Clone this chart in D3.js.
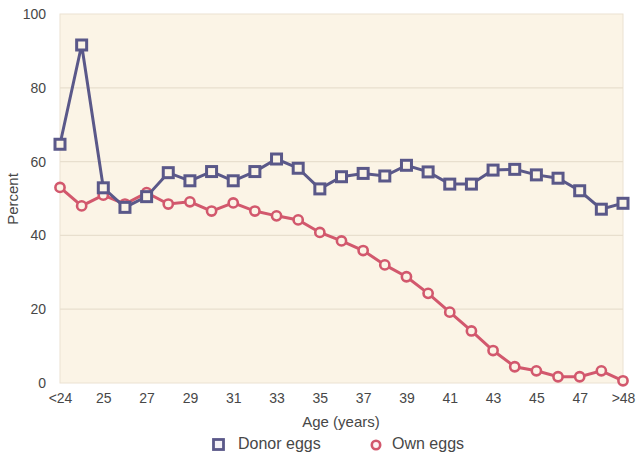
<!DOCTYPE html>
<html><head><meta charset="utf-8">
<script src="https://cdn.jsdelivr.net/npm/d3@7"></script>
<style>body{margin:0;background:#fff;}svg{display:block;font-family:"Liberation Sans",Arial,sans-serif;}</style>
</head><body>
<svg id="c" width="640" height="461"></svg>
<script>
const categories = ["<24","24","25","26","27","28","29","30","31","32","33","34","35","36","37","38","39","40","41","42","43","44","45","46","47","48",">48"];
const tickLabels = ["<24","25","27","29","31","33","35","37","39","41","43","45","47",">48"];
const donorEggs = [64.7,91.6,52.9,47.6,50.5,57.0,54.8,57.3,54.8,57.3,60.7,58.2,52.6,55.9,56.8,56.1,59.0,57.2,53.9,53.9,57.7,57.9,56.4,55.5,52.1,47.1,48.7];
const ownEggs = [53.0,48.0,50.9,48.5,51.6,48.5,49.1,46.6,48.8,46.6,45.3,44.2,40.8,38.5,35.9,32.0,28.8,24.3,19.2,14.1,8.8,4.4,3.3,1.7,1.7,3.3,0.6];
const yTicks = [0,20,40,60,80,100];

const svg = d3.select("#c");
const L=60,R=623,T=14,B=383;
const x = d3.scalePoint().domain(categories).range([L,R]).padding(0);
const y = d3.scaleLinear().domain([0,100]).range([B,T]);
const donorColor="#5a5889", ownColor="#d2586d", textColor="#474747";

svg.append("rect").attr("x",L).attr("y",T).attr("width",R-L).attr("height",B-T).attr("fill","#fbf4e6").attr("stroke","#ebe2d2").attr("stroke-width",1);
svg.append("g").selectAll("line").data(yTicks.filter(d=>d>0&&d<100)).join("line")
  .attr("x1",L).attr("x2",R).attr("y1",d=>y(d)).attr("y2",d=>y(d)).attr("stroke","#e8dfce").attr("stroke-width",1.2);

const yAxis = svg.append("g").attr("transform",`translate(${L},0)`)
  .call(d3.axisLeft(y).tickValues(yTicks).tickSize(0).tickPadding(14));
yAxis.select(".domain").remove();
yAxis.selectAll("text").attr("font-size",14).attr("fill",textColor).attr("font-family","Liberation Sans, Arial, sans-serif");

const xAxis = svg.append("g").attr("transform",`translate(0,${B})`)
  .call(d3.axisBottom(x).tickValues(tickLabels).tickSize(0).tickPadding(10));
xAxis.select(".domain").remove();
xAxis.selectAll("text").attr("font-size",14).attr("fill",textColor).attr("font-family","Liberation Sans, Arial, sans-serif");

svg.append("text").attr("x",341).attr("y",427).attr("text-anchor","middle").attr("font-size",15).attr("fill",textColor).text("Age (years)");
svg.append("text").attr("transform","translate(18,199) rotate(-90)").attr("text-anchor","middle").attr("font-size",15).attr("fill",textColor).text("Percent");

const line = d3.line().x((d,i)=>x(categories[i])).y(d=>y(d));
svg.append("path").datum(ownEggs).attr("d",line).attr("fill","none").attr("stroke",ownColor).attr("stroke-width",3);
svg.append("g").selectAll("circle").data(ownEggs).join("circle")
  .attr("cx",(d,i)=>x(categories[i])).attr("cy",d=>y(d)).attr("r",4.6)
  .attr("fill","#fbf4e6").attr("stroke",ownColor).attr("stroke-width",2.6);

svg.append("path").datum(donorEggs).attr("d",line).attr("fill","none").attr("stroke",donorColor).attr("stroke-width",3);
svg.append("g").selectAll("rect").data(donorEggs).join("rect")
  .attr("x",(d,i)=>x(categories[i])-5).attr("y",d=>y(d)-5).attr("width",10).attr("height",10)
  .attr("fill","#fbf4e6").attr("stroke",donorColor).attr("stroke-width",3);

const lg = svg.append("g");
lg.append("rect").attr("x",213.5).attr("y",439.5).attr("width",10).attr("height",10).attr("fill","#f4f1f6").attr("stroke",donorColor).attr("stroke-width",2.8);
lg.append("text").attr("x",238).attr("y",449).attr("font-size",16).attr("fill",textColor).text("Donor eggs");
lg.append("circle").attr("cx",376).attr("cy",445).attr("r",4.2).attr("fill","#fdf3f4").attr("stroke",ownColor).attr("stroke-width",2.6);
lg.append("text").attr("x",392).attr("y",449).attr("font-size",16).attr("fill",textColor).text("Own eggs");
</script>
</body></html>
